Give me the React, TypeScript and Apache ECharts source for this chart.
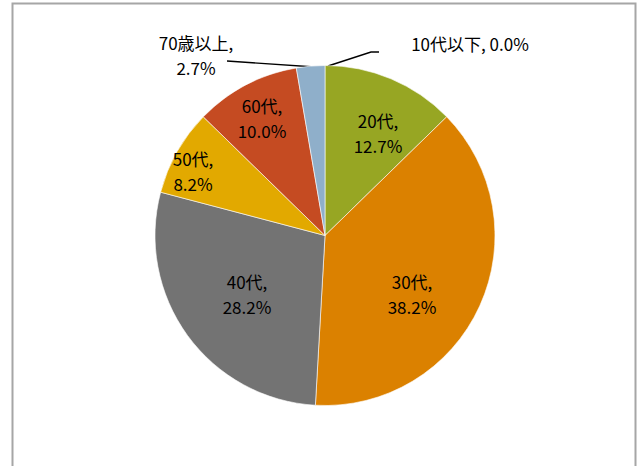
import React, { useEffect, useRef } from "react";
import * as echarts from "echarts";

const categories = ["10代以下", "20代", "30代", "40代", "50代", "60代", "70歳以上"];
const shares = [0.0, 12.7, 38.2, 28.2, 8.2, 10.0, 2.7];
const sliceColors = ["#4F81BD", "#97A623", "#DB8100", "#737373", "#E2A900", "#C54B22", "#8FAFCA"];

// label layout (pixel positions of label centers, and leader lines)
const labelSpots: Record<number, { x: number; y: number; line?: number[][] }> = {
  0: { x: 470, y: 43, line: [[328, 66], [371, 52], [379, 52]] },
  1: { x: 378, y: 133 },
  2: { x: 412, y: 294 },
  3: { x: 247, y: 294 },
  4: { x: 193, y: 171 },
  5: { x: 262, y: 118 },
  6: { x: 196, y: 55, line: [[315, 67], [227, 61]] },
};

export default function App() {
  const ref = useRef<HTMLDivElement>(null);
  useEffect(() => {
    if (!ref.current) return;
    const chart = echarts.init(ref.current, undefined, { renderer: "svg" });
    const data = categories.map((name, i) => {
      const outside = i === 0 || i === categories.length - 1;
      return {
        name,
        value: shares[i],
        itemStyle: { color: sliceColors[i] },
        label: { position: outside ? "outside" : "inside" },
        labelLine: { show: outside },
      };
    });
    chart.setOption({
      animation: false,
      backgroundColor: "#ffffff",
      graphic: [
        {
          type: "rect",
          shape: { x: 12.5, y: 3.5, width: 623, height: 480 },
          style: { fill: "none", stroke: "#a6a6a6", lineWidth: 2 },
          silent: true,
        },
      ],
      series: [
        {
          type: "pie",
          center: [325, 235.5],
          radius: [0, 170],
          startAngle: 90,
          clockwise: true,
          avoidLabelOverlap: false,
          minShowLabelAngle: 0,
          stillShowZeroSum: true,
          itemStyle: { borderColor: "#ffffff", borderWidth: 0.6 },
          label: {
            show: true,
            color: "#000000",
            fontFamily: "'Noto Sans CJK JP', 'Noto Sans', sans-serif",
            fontSize: 17,
            lineHeight: 25,
            align: "center",
            formatter: (p: any) => {
              const v = Number(p.value).toFixed(1) + "%";
              if (p.dataIndex === 0) return `${p.name}, ${v}`;
              return `${p.name},\n${v}`;
            },
          },
          labelLine: {
            show: false,
            lineStyle: { color: "#000000", width: 1.4 },
          },
          labelLayout: (params: any) => {
            const s = labelSpots[params.dataIndex];
            if (!s) return {};
            const out: any = { x: s.x, y: s.y, align: "center", verticalAlign: "middle" };
            if (s.line) out.labelLinePoints = s.line;
            return out;
          },
          data,
        },
      ],
    });
    return () => chart.dispose();
  }, []);
  return (
    <div
      ref={ref}
      style={{ position: "fixed", left: 0, top: 0, width: 638, height: 466 }}
    />
  );
}
